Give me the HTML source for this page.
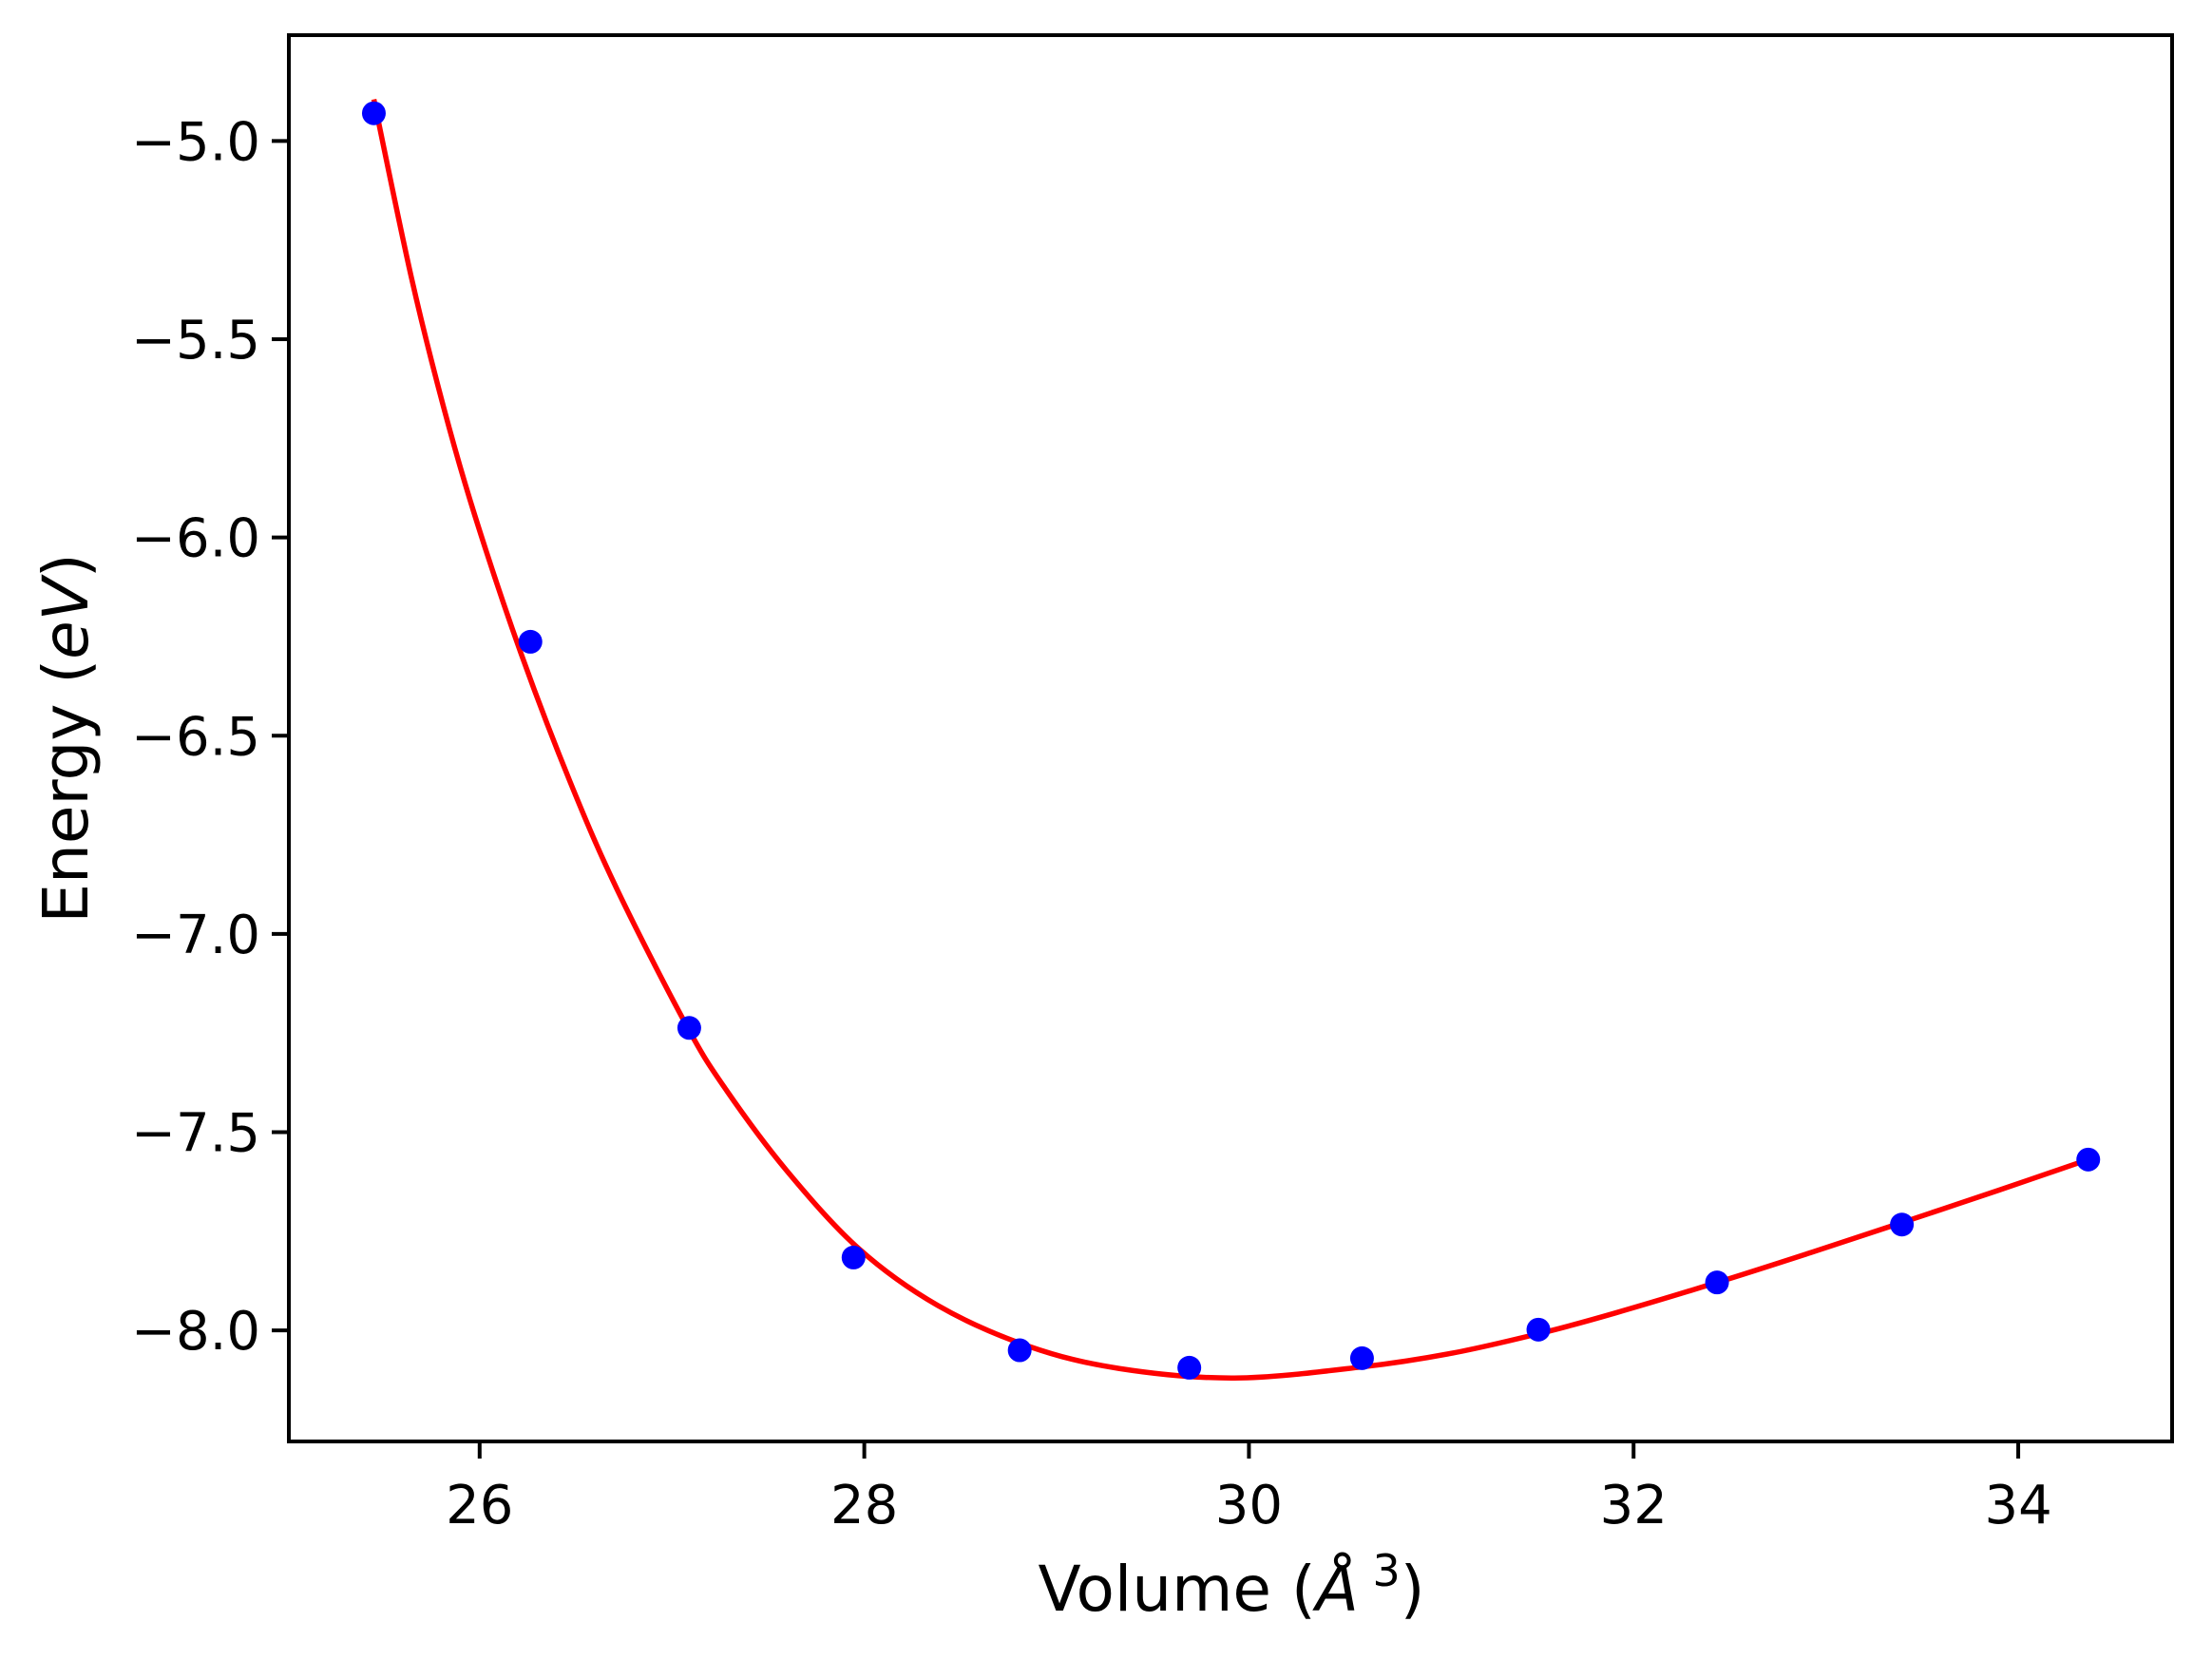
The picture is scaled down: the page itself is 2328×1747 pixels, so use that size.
<!DOCTYPE html>
<html><head><meta charset="utf-8">
<style>
html,body{margin:0;padding:0;background:#fff;}
svg{display:block;}
text{font-family:"DejaVu Sans","Liberation Sans",sans-serif;fill:#000;}
</style></head>
<body>
<svg id="chart" width="2328" height="1747" viewBox="0 0 2328 1747" xmlns="http://www.w3.org/2000/svg">
  <rect x="0" y="0" width="2328" height="1747" fill="#fff"/>
  <g id="plot"></g>
  <text x="1296" y="1695" font-size="66" text-anchor="middle">Volume (<tspan font-style="italic">Å</tspan><tspan font-size="46" dy="-26"> 3</tspan><tspan dy="26">)</tspan></text>
  <text x="0" y="0" font-size="66" text-anchor="middle" transform="translate(92,777) rotate(-90)">Energy (<tspan font-style="italic">eV</tspan>)</text>
</svg>
<script>
const volumes = [25.45, 26.264, 27.09, 27.944, 28.808, 29.69, 30.588, 31.505, 32.434, 33.395, 34.364];
const energies = [-4.93, -6.263, -7.237, -7.816, -8.05, -8.094, -8.07, -7.998, -7.879, -7.733, -7.569];
const fitVolumes = [25.45, 25.645, 25.813, 25.976, 26.214, 26.471, 26.718, 27.078, 27.28, 27.595, 27.972, 28.382, 28.855, 29.326, 29.926, 30.588, 31.06, 31.533, 31.905, 32.434, 32.9, 33.395, 33.9, 34.364];
const fitEnergies = [-4.895, -5.344, -5.672, -5.946, -6.291, -6.617, -6.891, -7.233, -7.392, -7.596, -7.794, -7.937, -8.04, -8.096, -8.12, -8.092, -8.057, -8.005, -7.956, -7.879, -7.807, -7.728, -7.646, -7.569];
const xTicks = [26, 28, 30, 32, 34];
const xTickLabels = ["26", "28", "30", "32", "34"];
const yTicks = [-5.0, -5.5, -6.0, -6.5, -7.0, -7.5, -8.0];
const yTickLabels = ["\u22125.0", "\u22125.5", "\u22126.0", "\u22126.5", "\u22127.0", "\u22127.5", "\u22128.0"];

const L = 304, R = 2286, T = 37, B = 1517;
const xMin = 25.008, xMax = 34.80, yMin = -8.280, yMax = -4.733;
function xs(v){ return L + (v - xMin) / (xMax - xMin) * (R - L); }
function ys(v){ return B - (v - yMin) / (yMax - yMin) * (B - T); }
const NS = "http://www.w3.org/2000/svg";
const svg = document.getElementById('chart');
const plot = document.getElementById('plot');
function mk(tag, attrs, parent){
  const e = document.createElementNS(NS, tag);
  for (const k in attrs) e.setAttribute(k, attrs[k]);
  (parent || svg).appendChild(e);
  return e;
}
const defs = mk('defs', {});
const cp = mk('clipPath', {id: 'clip'}, defs);
mk('rect', {x: L, y: T, width: R - L, height: B - T}, cp);

const pts = fitVolumes.map((v, i) => [xs(v), ys(fitEnergies[i])]);
let d = 'M' + pts[0][0].toFixed(2) + ',' + pts[0][1].toFixed(2);
for (let i = 0; i < pts.length - 1; i++) {
  const p0 = pts[Math.max(0, i - 1)], p1 = pts[i], p2 = pts[i + 1], p3 = pts[Math.min(pts.length - 1, i + 2)];
  const c1 = [p1[0] + (p2[0] - p0[0]) / 6, p1[1] + (p2[1] - p0[1]) / 6];
  const c2 = [p2[0] - (p3[0] - p1[0]) / 6, p2[1] - (p3[1] - p1[1]) / 6];
  d += ' C' + c1[0].toFixed(2) + ',' + c1[1].toFixed(2) + ' ' + c2[0].toFixed(2) + ',' + c2[1].toFixed(2) + ' ' + p2[0].toFixed(2) + ',' + p2[1].toFixed(2);
}
const curve = mk('path', {d: d, fill: 'none', stroke: '#ff0000', 'stroke-width': 5.5, 'stroke-linejoin': 'round', 'clip-path': 'url(#clip)'}, plot);



volumes.forEach((v, i) => {
  const c = mk('circle', {cx: xs(v), cy: ys(energies[i]), r: 12.5, fill: '#0000ff'}, plot);
  
  
});

const frame = mk('rect', {x: L, y: T, width: R - L, height: B - T, fill: 'none', stroke: '#000', 'stroke-width': 4});



xTicks.forEach((t, i) => {
  const x = xs(t);
  const ln = mk('line', {x1: x, y1: B, x2: x, y2: B + 18, stroke: '#000', 'stroke-width': 4});
  
  
  const tx = mk('text', {x: x, y: B + 86, 'font-size': 56, 'text-anchor': 'middle'});
  tx.textContent = xTickLabels[i];
  
  
});
yTicks.forEach((t, i) => {
  const y = ys(t);
  const ln = mk('line', {x1: L - 18, y1: y, x2: L, y2: y, stroke: '#000', 'stroke-width': 4});
  
  
  const tx = mk('text', {x: L - 30, y: y + 20, 'font-size': 56, 'text-anchor': 'end'});
  tx.textContent = yTickLabels[i];
  
  
});
</script>
</body></html>
